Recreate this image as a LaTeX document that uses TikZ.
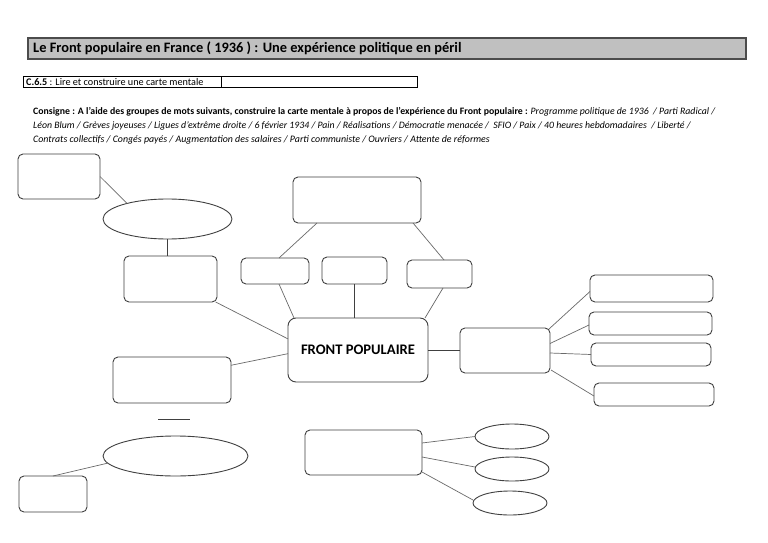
\documentclass[tikz,border=0pt]{standalone}
\usepackage{fontspec}
\setmainfont{Carlito}
\usetikzlibrary{shapes.geometric,calc}
\definecolor{bord}{HTML}{404040}
\definecolor{conn}{HTML}{6A6A6A}
\definecolor{titlegray}{HTML}{C0C0C0}
\begin{document}
\begin{tikzpicture}[x=1pt,y=-1pt,
  rbox/.style={draw=bord,line width=0.9pt,rounded corners=5pt,rectangle,inner sep=0pt,outer sep=0pt},
  oval/.style={draw=bord,line width=0.9pt,ellipse,inner sep=0pt,outer sep=0pt},
  link/.style={draw=conn,line width=0.7pt},
  darklink/.style={draw=bord,line width=0.8pt}]
\useasboundingbox[fill=white] (0,0) rectangle (768,543);
% header
\node[draw=black!70,line width=1.2pt,fill=titlegray,rectangle,inner sep=0pt,minimum width=718pt,minimum height=21pt] (titlebar) at (387,48.5) {};
\node[anchor=west,inner sep=0pt,font=\fontsize{14.4}{16}\selectfont\bfseries] (title) at (33,48.5) {Le Front populaire en France ( 1936 ) : Une expérience politique en péril};
\node[draw=black,line width=0.8pt,rectangle,inner sep=0pt,minimum width=394pt,minimum height=11pt] (cbox) at (220,81.5) {};
\coordinate (divtop) at (221,76);
\coordinate (divbot) at (221,87);
\draw[line width=0.8pt] (divtop) -- (divbot);
\node[anchor=west,inner sep=0pt,font=\fontsize{10.2}{10}\selectfont] (ctext) at (26,81.5) {\textbf{C.6.5} : Lire et construire une carte mentale};
\node[anchor=west,inner sep=0pt,font=\fontsize{9.8}{11}\selectfont] (cons1) at (33,112) {\textbf{Consigne : A l'aide des groupes de mots suivants, construire la carte mentale à propos de l'expérience du Front populaire :} \textit{Programme politique de 1936\ \ / Parti Radical /}};
\node[anchor=west,inner sep=0pt,font=\fontsize{9.8}{11}\selectfont\itshape] (cons2) at (33,126) {Léon Blum / Grèves joyeuses / Ligues d'extrême droite / 6 février 1934 / Pain / Réalisations / Démocratie menacée /\ \ SFIO / Paix / 40 heures hebdomadaires\ \ / Liberté /};
\node[anchor=west,inner sep=0pt,font=\fontsize{9.9}{11}\selectfont\itshape] (cons3) at (33,140) {Contrats collectifs / Congés payés / Augmentation des salaires / Parti communiste / Ouvriers / Attente de réformes};
% nodes
\node[rbox,minimum width=82pt,minimum height=45pt] (A) at (59,176.5) {};
\node[oval,minimum width=129pt,minimum height=40pt] (E1) at (167.5,219) {};
\node[rbox,minimum width=93pt,minimum height=46pt] (B) at (170.5,279) {};
\node[rbox,minimum width=128pt,minimum height=46pt] (T) at (357,200) {};
\node[rbox,minimum width=68pt,minimum height=26pt] (S1) at (275,271) {};
\node[rbox,minimum width=65pt,minimum height=27pt] (S2) at (354.5,270.5) {};
\node[rbox,minimum width=65pt,minimum height=28pt] (S3) at (439.5,274) {};
\node[rbox,rounded corners=8pt,minimum width=140pt,minimum height=64pt,font=\fontsize{14.6}{16}\selectfont\bfseries] (FP) at (358,350) {FRONT POPULAIRE};
\node[rbox,minimum width=90pt,minimum height=45pt] (R) at (505,350.5) {};
\node[rbox,minimum width=123pt,minimum height=27pt] (R1) at (651.5,288.5) {};
\node[rbox,minimum width=123pt,minimum height=23pt] (R2) at (650.5,323.5) {};
\node[rbox,minimum width=120pt,minimum height=23pt] (R3) at (651,354.5) {};
\node[rbox,minimum width=120pt,minimum height=23pt] (R4) at (654,394.5) {};
\node[rbox,minimum width=118pt,minimum height=46pt] (L1) at (172,380) {};
\node[oval,minimum width=145pt,minimum height=40pt] (E2) at (175.5,456) {};
\node[rbox,minimum width=68pt,minimum height=36pt] (L2) at (53,494) {};
\node[rbox,minimum width=117pt,minimum height=45pt] (BT) at (363.5,452.5) {};
\node[oval,minimum width=74pt,minimum height=25pt] (O1) at (512,436.5) {};
\node[oval,minimum width=74pt,minimum height=24pt] (O2) at (512,469) {};
\node[oval,minimum width=74pt,minimum height=24pt] (O3) at (510,503) {};
\coordinate (dashL) at (158,419);
\coordinate (dashR) at (190,419);
% connectors
\draw[link] (A.east) -- (E1.159);
\draw[darklink] (E1.south) -- (E1.south |- B.north);
\draw[link] (B.-27) -- (FP.171);
\draw[link] (L1.14) -- (FP.183);
\draw[link] ($(T.south west)+(24,0)$) -- ($(S1.north)+(4,0)$);
\draw[darklink] ($(S2.north)+(-2.5,0)$) -- ($(S2.north)+(-2.5,0)$ |- T.south);
\draw[link] ($(T.south east)+(-8,0)$) -- ($(S3.north)+(4.5,0)$);
\draw[link] ($(S1.south)+(4,0)$) -- ($(FP.north west)+(6,0)$);
\draw[darklink] (S2.south) -- (S2.south |- FP.north);
\draw[link] ($(S3.south)+(3.5,0)$) -- ($(FP.north east)+(-3,0)$);
\draw[darklink] (FP.east) -- (FP.east -| R.west);
\draw[link] ($(R.north east)+(-1,1)$) -- ($(R1.west)+(0,3)$);
\draw[link] ($(R.east)+(0,-7)$) -- ($(R2.west)+(0,1.5)$);
\draw[link] ($(R.east)+(0,2.5)$) -- (R3.west);
\draw[link] ($(R.south east)+(1,-3)$) -- ($(R4.west)+(0,1.5)$);
\draw[darklink] (dashL) -- (dashR);
\draw[link] (E2.186) -- (L2.north);
\draw[darklink] ($(FP.south)+(12,0)$) -- ($(FP.south)+(12,0)$ |- BT.north);
\draw[link] ($(BT.east)+(0,-9.5)$) -- (O1.west);
\draw[link] ($(BT.east)+(0,4.5)$) -- ($(O2.west)+(0,-2)$);
\draw[link] ($(BT.east)+(0,19.5)$) -- ($(O3.west)+(0,-3)$);
\end{tikzpicture}
\end{document}
